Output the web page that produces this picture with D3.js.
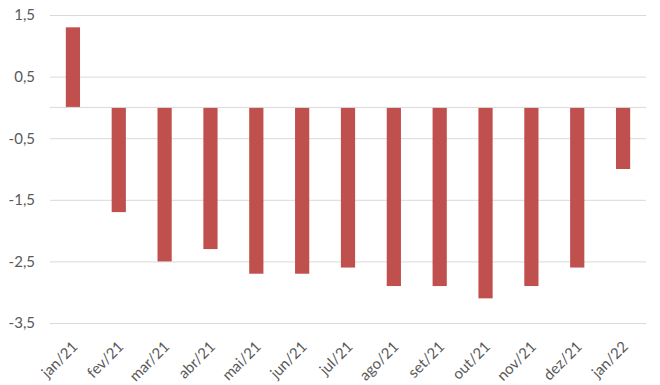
<!DOCTYPE html>
<html>
<head>
<meta charset="utf-8">
<script src="https://cdn.jsdelivr.net/npm/d3@7"></script>
<style>
  body { margin: 0; background: #fff; }
  #chart { width: 660px; height: 385px; }
</style>
</head>
<body>
<div id="chart"></div>
<script>
// Monthly values, jan/21 .. jan/22
var months = ["jan/21", "fev/21", "mar/21", "abr/21", "mai/21", "jun/21", "jul/21",
              "ago/21", "set/21", "out/21", "nov/21", "dez/21", "jan/22"];
var values = [1.3, -1.7, -2.5, -2.3, -2.7, -2.7, -2.6, -2.9, -2.9, -3.1, -2.9, -2.6, -1.0];
var yTicks = [1.5, 0.5, -0.5, -1.5, -2.5, -3.5];

var totalW = 660, totalH = 385;
var margin = { top: 15, right: 14, bottom: 62, left: 50 };
var width = totalW - margin.left - margin.right;
var height = totalH - margin.top - margin.bottom;

var svg = d3.select("#chart").append("svg")
    .attr("width", totalW)
    .attr("height", totalH);

var g = svg.append("g")
    .attr("transform", "translate(" + margin.left + "," + margin.top + ")");

var x = d3.scaleBand()
    .domain(months)
    .range([0, width])
    .paddingInner(0.69)
    .paddingOuter(0.345);

var y = d3.scaleLinear()
    .domain([-3.5, 1.5])
    .range([height, 0]);

var fmt = function(v) { return d3.format(".1f")(v).replace(".", ",").replace("−", "-"); };
var labelFont = "Lato, 'Open Sans', sans-serif";

// --- Grid lines ---
g.append("g")
    .attr("class", "grid")
    .call(d3.axisLeft(y).tickValues(yTicks).tickSize(-width).tickFormat(""))
    .call(function(s) { s.select(".domain").remove(); })
    .selectAll("line")
        .attr("stroke", "#d9d9d9")
        .attr("stroke-width", 1);

// --- Y labels ---
g.append("g")
    .call(d3.axisLeft(y).tickValues(yTicks).tickSize(0).tickPadding(15).tickFormat(fmt))
    .call(function(s) { s.select(".domain").remove(); })
    .selectAll("text")
        .style("font-family", labelFont)
        .style("font-size", "15px")
        .style("fill", "#595959");

// --- Bars ---
g.selectAll(".bar")
    .data(values)
    .enter().append("rect")
    .attr("class", "bar")
    .attr("x", function(d, i) { return x(months[i]); })
    .attr("width", x.bandwidth())
    .attr("y", function(d) { return y(Math.max(0, d)); })
    .attr("height", function(d) { return Math.abs(y(d) - y(0)); })
    .attr("fill", "#c0504d");

// --- Zero axis line ---
g.append("line")
    .attr("x1", 0).attr("x2", width)
    .attr("y1", y(0)).attr("y2", y(0))
    .attr("stroke", "#d9d9d9")
    .attr("stroke-width", 1);

// --- X labels (rotated) ---
g.selectAll(".xlab")
    .data(months)
    .enter().append("text")
    .attr("class", "xlab")
    .attr("transform", function(d) {
        return "translate(" + (x(d) + x.bandwidth() / 2 + 2) + "," + (height + 21) + ") rotate(-45)";
    })
    .attr("text-anchor", "end")
    .attr("dy", "0.35em")
    .style("font-family", labelFont)
    .style("font-size", "15px")
    .style("fill", "#595959")
    .text(function(d) { return d; });
</script>
</body>
</html>
